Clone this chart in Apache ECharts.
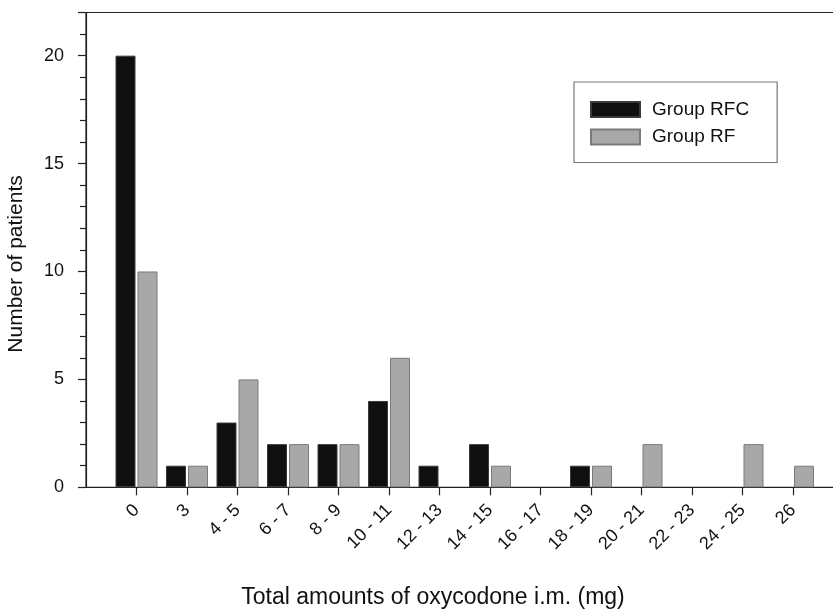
<!DOCTYPE html>
<html>
<head>
<meta charset="utf-8">
<script src="https://cdn.jsdelivr.net/npm/echarts@6/dist/echarts.min.js"></script>
<style>
html,body{margin:0;padding:0;background:#fff;}
#c{width:833px;height:615px;}
</style>
</head>
<body>
<div id="c"></div>
<script>
var categories = ['0','3','4 - 5','6 - 7','8 - 9','10 - 11','12 - 13','14 - 15','16 - 17','18 - 19','20 - 21','22 - 23','24 - 25','26'];
var groupRFC = [20,1,3,2,2,4,1,2,0,1,0,0,0,0];
var groupRF  = [10,1,5,2,2,6,0,1,0,1,2,0,2,1];
var yTicks = [0,5,10,15,20];

var FONT = '"Liberation Sans", Arial, sans-serif';
var axisCats = [''].concat(categories).concat(['']);
function pad(arr){ return [null].concat(arr.map(function(v){ return v === 0 ? null : v; })).concat([null]); }

var chart = echarts.init(document.getElementById('c'));
chart.setOption({
  animation: false,
  backgroundColor: '#fff',
  grid: {left: 86, top: 12.5, right: -10.5, bottom: 127.7, outerBoundsMode: 'none', containLabel: false,
    show: true, borderColor: '#222', borderWidth: 1.2, backgroundColor: 'transparent'},
  legend: {
    orient: 'vertical',
    left: 574, top: 82,
    padding: [18, 28, 16, 16],
    itemGap: 8.5,
    itemWidth: 49, itemHeight: 15,
    borderColor: '#777', borderWidth: 1.2,
    icon: 'rect',
    textStyle: {fontFamily: FONT, fontSize: 19, color: '#111', lineHeight: 15, padding: [0,0,0,7]},
    data: ['Group RFC','Group RF']
  },
  xAxis: {
    type: 'category',
    data: axisCats,
    boundaryGap: false,
    axisLine: {lineStyle: {color: '#222', width: 1.2}},
    axisTick: {show: true, length: 8, lineStyle: {color: '#222', width: 1.2},
      interval: function(i){ return i > 0 && i < axisCats.length - 1; }},
    axisLabel: {interval: 0, rotate: 45, margin: 20, fontFamily: FONT, fontSize: 18, color: '#111'},
    splitLine: {show: false}
  },
  yAxis: {
    type: 'value',
    min: 0, max: 22, interval: 5,
    axisLine: {show: true, lineStyle: {color: '#222', width: 1.2}},
    axisTick: {show: true, length: 8, lineStyle: {color: '#222', width: 1.2}},
    minorTick: {show: true, splitNumber: 5, length: 6, lineStyle: {color: '#222', width: 1.2}},
    axisLabel: {margin: 22, fontFamily: FONT, fontSize: 18, color: '#111',
      formatter: function(v){ return yTicks.indexOf(v) >= 0 ? String(v) : ''; }},
    splitLine: {show: false}
  },
  graphic: [
    {type: 'text', x: 433, y: 598, style: {text: 'Total amounts of oxycodone i.m. (mg)', font: '23px ' + FONT, fill: '#111', textAlign: 'center', textVerticalAlign: 'middle'}},
    {type: 'text', x: 16, y: 264, rotation: Math.PI/2, style: {text: 'Number of patients', font: '21px ' + FONT, fill: '#111', textAlign: 'center', textVerticalAlign: 'middle'}}
  ],
  series: [
    {name: 'Group RFC', type: 'bar', data: pad(groupRFC), barWidth: 20, barGap: '10%',
      itemStyle: {color: '#0f0f0f', borderColor: '#3a3a3a', borderWidth: 1}},
    {name: 'Group RF', type: 'bar', data: pad(groupRF), barWidth: 20, barGap: '10%',
      itemStyle: {color: '#a8a8a8', borderColor: '#7a7a7a', borderWidth: 1}}
  ]
});
</script>
</body>
</html>
